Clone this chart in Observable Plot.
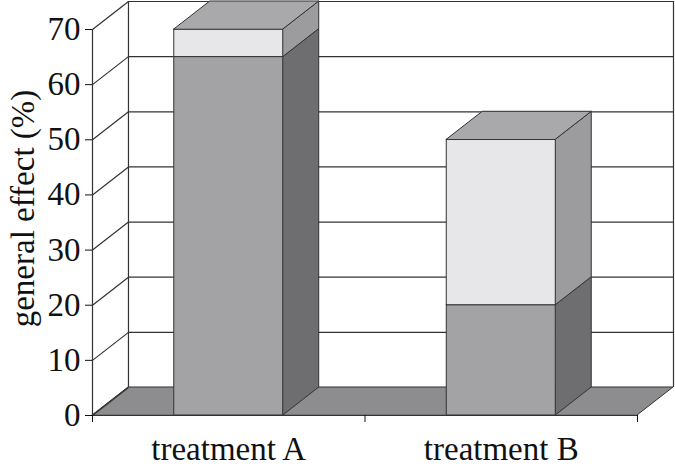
<!DOCTYPE html>
<html>
<head>
<meta charset="utf-8">
<script src="https://cdn.jsdelivr.net/npm/d3@7"></script>
<script src="https://cdn.jsdelivr.net/npm/@observablehq/plot@0.6"></script>
<style>
  html, body { margin: 0; padding: 0; background: #fff; }
  #chart svg text { font-family: "Liberation Serif", "DejaVu Serif", "Noto Serif", Times, serif !important; }
</style>
</head>
<body>
<div id="chart"></div>
<script>
// ---- data ----
const categories = ["treatment A", "treatment B"];
const lowerValues = [65, 20];   // dark segment
const upperValues = [5, 30];    // light segment
const yTicks = [0, 10, 20, 30, 40, 50, 60, 70];

// ---- style / geometry constants ----
const DX = 0.132;   // depth offset in category units
const DY = 5.078;   // depth offset in value units
const HALF = 0.2;   // half bar width in category units
const YMAX = 70;
const colors = {
  lowerFront: "#a3a3a6", lowerSide: "#6e6e71",
  upperFront: "#e7e7e9", upperSide: "#9c9c9f",
  top: "#a9a9ac", floor: "#8d8d8f", line: "#333333"
};

// segments built from the data arrays
const segments = [];
categories.forEach((c, i) => {
  const center = i + 0.5;
  const lo = lowerValues[i], hi = lo + upperValues[i];
  segments.push({id: c + "-lower", center, y0: 0, y1: lo, front: colors.lowerFront, side: colors.lowerSide, isTop: false});
  segments.push({id: c + "-upper", center, y0: lo, y1: hi, front: colors.upperFront, side: colors.upperSide, isTop: true});
});

const sidePts = segments.flatMap(s => [
  {id: s.id, x: s.center + HALF, lo: s.y0, hi: s.y1, fill: s.side},
  {id: s.id, x: s.center + HALF + DX, lo: s.y0 + DY, hi: s.y1 + DY, fill: s.side}
]);
const topPts = segments.filter(s => s.isTop).flatMap(s => [
  {id: s.id, y: s.y1, xl: s.center - HALF, xr: s.center + HALF},
  {id: s.id, y: s.y1 + DY, xl: s.center - HALF + DX, xr: s.center + HALF + DX}
]);
const n = categories.length;
const floorPts = [
  {y: 0, xl: 0, xr: n},
  {y: DY, xl: DX, xr: n + DX}
];

const font = "Liberation Serif";

const plot = Plot.plot({
  width: 675,
  height: 466,
  marginLeft: 92,
  marginRight: 2,
  marginTop: 1,
  marginBottom: 51,
  x: {domain: [0, n + DX]},
  y: {domain: [0, YMAX + DY]},
  color: {type: "identity"},
  style: {fontSize: "33px", color: "#111", background: "#fff"},
  marks: [
    // floor
    Plot.areaX(floorPts, {y: "y", x1: "xl", x2: "xr", fill: colors.floor, stroke: colors.line, strokeWidth: 1}),
    // back wall gridlines
    Plot.ruleY(yTicks.slice(1), {y: d => d + DY, x1: DX, x2: n + DX, stroke: colors.line, strokeWidth: 1.2, strokeOpacity: 1}),
    // left wall diagonals
    Plot.link(yTicks, {x1: 0, y1: d => d, x2: DX, y2: d => d + DY, stroke: colors.line, strokeWidth: 1.2}),
    // wall edges
    Plot.ruleX([DX, n + DX], {y1: DY, y2: YMAX + DY, stroke: colors.line, strokeWidth: 1.2}),
    Plot.ruleX([0], {y1: 0, y2: YMAX, stroke: colors.line, strokeWidth: 1.2}),
    Plot.ruleY([0], {x1: 0, x2: n, stroke: colors.line, strokeWidth: 1.2}),
    // bar side faces
    Plot.areaY(sidePts, {x: "x", y1: "lo", y2: "hi", z: "id", fill: "fill", stroke: colors.line, strokeWidth: 1}),
    // bar front faces
    Plot.rect(segments, {x1: d => d.center - HALF, x2: d => d.center + HALF, y1: "y0", y2: "y1", fill: "front", stroke: colors.line, strokeWidth: 1}),
    // bar top faces
    Plot.areaX(topPts, {y: "y", x1: "xl", x2: "xr", z: "id", fill: colors.top, stroke: colors.line, strokeWidth: 1}),
    // axes
    Plot.axisY({ticks: yTicks, tickSize: 7, tickPadding: 5, label: null, fontSize: 33, fontFamily: font, stroke: "#111"}),
    Plot.axisX({ticks: d3.range(n + 1), tickSize: 7, tickFormat: () => "", label: null, stroke: "#111"}),
    Plot.axisX({ticks: categories.map((c, i) => i + 0.5), tickSize: 0, tickPadding: 21, tickFormat: d => categories[Math.floor(d)], label: null, fontSize: 33, fontFamily: font}),
    // y-axis title
    Plot.text(["general effect (%)"], {frameAnchor: "left", rotate: -90, dx: -59, lineAnchor: "bottom", textAnchor: "middle", fontSize: 33, fontFamily: font, fill: "#111"})
  ]
});

d3.select(plot).selectAll("text, g").attr("font-family", font);
document.getElementById("chart").appendChild(plot);
</script>
</body>
</html>
